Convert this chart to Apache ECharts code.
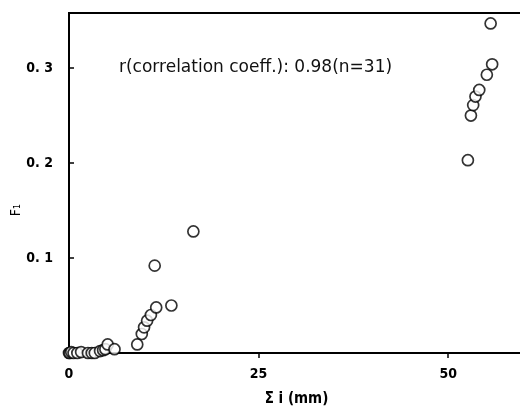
<!DOCTYPE html>
<html><head><meta charset="utf-8">
<script src="https://cdn.jsdelivr.net/npm/echarts@6/dist/echarts.min.js"></script>
<style>html,body{margin:0;padding:0;background:#fff}#c{width:520px;height:410px}</style>
</head><body><div id="c"></div>
<script>
var sumI = [0.0, 0.1, 0.3, 0.6, 1.1, 1.6, 2.5, 3.0, 3.4, 4.1, 4.5, 4.8, 5.1, 6.0,
            9.0, 9.6, 9.9, 10.3, 10.8, 11.3, 11.5, 13.5, 16.4,
            52.6, 53.0, 53.3, 53.6, 54.1, 55.1, 55.8, 55.6];
var F1 = [0.000, 0.000, 0.001, 0.000, 0.000, 0.001, 0.000, 0.000, 0.000, 0.002, 0.003, 0.004, 0.009, 0.004,
          0.009, 0.020, 0.027, 0.034, 0.040, 0.092, 0.048, 0.050, 0.128,
          0.203, 0.250, 0.261, 0.270, 0.277, 0.293, 0.304, 0.347];
var xTicks = [0, 25, 50];
var yTicks = [0.1, 0.2, 0.3];
var annotation = 'r(correlation coeff.): 0.98(n=31)';

var pts = sumI.map(function (x, i) { return [x, F1[i]]; });
var lab = {color: '#000', fontFamily: 'DejaVu Sans Condensed', fontSize: 14, fontWeight: 'bold'};
var chart = echarts.init(document.getElementById('c'));
chart.setOption({
  animation: false,
  backgroundColor: '#fff',
  title: {text: annotation, left: 114, top: 54,
    textStyle: {fontFamily: 'DejaVu Sans', fontSize: 17, fontWeight: 'normal', color: '#111'}},
  grid: {left: 69, right: -4, top: 13, bottom: 57, show: true, borderColor: '#000', borderWidth: 2,
    outerBoundsMode: 'none', containLabel: false},
  xAxis: {type: 'value', min: 0, max: 60,
    name: 'Σ i (mm)', nameLocation: 'middle', nameGap: 39,
    nameTextStyle: {color: '#000', fontFamily: 'DejaVu Sans Condensed', fontSize: 15, fontWeight: 'bold'},
    axisLine: {lineStyle: {color: '#000', width: 2}},
    axisTick: {customValues: xTicks, inside: false, length: 5, lineStyle: {color: '#000', width: 1.5}},
    axisLabel: Object.assign({customValues: xTicks, margin: 14}, lab),
    splitLine: {show: false}},
  yAxis: {type: 'value', min: 0, max: 0.358,
    name: 'F₁', nameLocation: 'middle', nameGap: 46, nameRotate: 90, nameMoveOverlap: false,
    nameTextStyle: {color: '#000', fontFamily: 'DejaVu Sans Condensed', fontSize: 14, padding: [0, 0, 0, -54]},
    axisLine: {lineStyle: {color: '#000', width: 2}},
    axisTick: {customValues: yTicks, inside: true, length: 5, lineStyle: {color: '#000', width: 1.5}},
    axisLabel: Object.assign({customValues: yTicks, margin: 16,
      formatter: function (v) { return v.toFixed(1).replace('.', '. '); }}, lab),
    splitLine: {show: false}},
  series: [{type: 'scatter', data: pts, symbol: 'circle', symbolSize: 11,
    itemStyle: {color: '#fff', borderColor: '#000', borderWidth: 1.7}}]
});
</script></body></html>
